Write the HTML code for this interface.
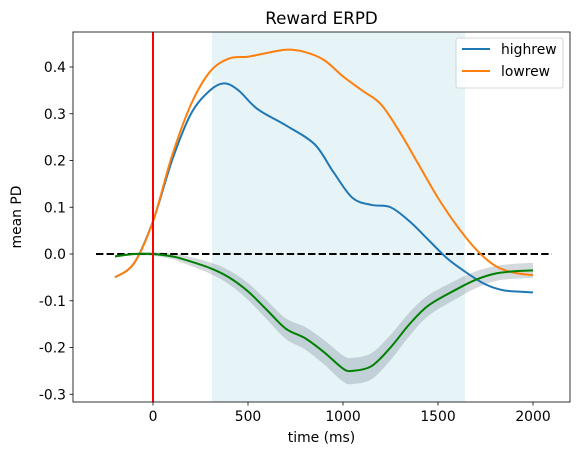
<!DOCTYPE html>
<html><head><meta charset="utf-8"><style>
body{margin:0;background:#fff;font-family:"Liberation Sans","DejaVu Sans",sans-serif}
svg text{font-family:"DejaVu Sans","Liberation Sans",sans-serif}
</style></head><body>
<svg id="c" width="578" height="455" xmlns="http://www.w3.org/2000/svg"></svg>
<script>
const xTicks=[0,500,1000,1500,2000];
const yTicks=[-0.3,-0.2,-0.1,0.0,0.1,0.2,0.3,0.4];
const timeHigh=[-200,-100,0,100,200,300,375,450,550,700,850,950,1050,1150,1250,1350,1450,1550,1650,1750,1850,2000];
const highrew=[-0.05,-0.02,0.07,0.2,0.3,0.35,0.365,0.35,0.31,0.275,0.235,0.175,0.12,0.105,0.1,0.07,0.03,-0.01,-0.04,-0.065,-0.078,-0.082];
const timeLow=[-200,-100,0,100,200,300,400,500,600,700,800,900,1000,1100,1200,1300,1400,1500,1600,1700,1800,1900,2000];
const lowrew=[-0.05,-0.02,0.07,0.21,0.32,0.39,0.418,0.422,0.43,0.437,0.432,0.415,0.38,0.35,0.32,0.26,0.19,0.12,0.06,0.01,-0.025,-0.04,-0.045];
const timeDiff=[-200,-100,0,100,150,300,400,500,600,700,800,900,1000,1050,1150,1250,1350,1450,1600,1700,1800,1900,2000];
const diffMean=[-0.005,0,0,-0.005,-0.01,-0.03,-0.05,-0.08,-0.12,-0.16,-0.18,-0.21,-0.245,-0.25,-0.24,-0.2,-0.15,-0.11,-0.075,-0.055,-0.042,-0.037,-0.035];
const diffErr=[0.003,0.003,0.004,0.006,0.008,0.012,0.015,0.018,0.02,0.022,0.024,0.026,0.028,0.028,0.028,0.027,0.025,0.022,0.02,0.018,0.016,0.016,0.016];
const shadeRange=[310,1642];

const L=73,R=570,T=32,B=402;
const X=v=>153+v*0.19, Y=v=>254-v*467.5;
const svg=document.getElementById('c');
const NS='http://www.w3.org/2000/svg';
function mk(tag,attrs,parent){const e=document.createElementNS(NS,tag);for(const k in attrs)e.setAttribute(k,attrs[k]);(parent||svg).appendChild(e);return e;}
function smooth(pts){let d=`M${pts[0][0]},${pts[0][1]}`;for(let i=0;i<pts.length-1;i++){const p0=pts[i-1]||pts[i],p1=pts[i],p2=pts[i+1],p3=pts[i+2]||p2;d+=` C${p1[0]+(p2[0]-p0[0])/6},${p1[1]+(p2[1]-p0[1])/6} ${p2[0]-(p3[0]-p1[0])/6},${p2[1]-(p3[1]-p1[1])/6} ${p2[0]},${p2[1]}`;}return d;}

let e=mk('rect',{x:X(shadeRange[0]),y:T,width:X(shadeRange[1])-X(shadeRange[0]),height:B-T,fill:'#add8e6','fill-opacity':0.3});


const up=timeDiff.map((t,i)=>[X(t),Y(diffMean[i]+diffErr[i])]);
const lo=timeDiff.map((t,i)=>[X(t),Y(diffMean[i]-diffErr[i])]).reverse();
e=mk('path',{d:smooth(up)+' L'+smooth(lo).slice(1)+' Z',fill:'#708090','fill-opacity':0.3,stroke:'none'});


e=mk('line',{x1:X(-300),x2:X(2100),y1:Y(0),y2:Y(0),stroke:'#000','stroke-width':2,'stroke-dasharray':'7.4,3.2'});


e=mk('path',{d:smooth(timeHigh.map((t,i)=>[X(t),Y(highrew[i])])),fill:'none',stroke:'#1f77b4','stroke-width':2});

e=mk('path',{d:smooth(timeLow.map((t,i)=>[X(t),Y(lowrew[i])])),fill:'none',stroke:'#ff7f0e','stroke-width':2});

e=mk('path',{d:smooth(timeDiff.map((t,i)=>[X(t),Y(diffMean[i])])),fill:'none',stroke:'#008000','stroke-width':2});


e=mk('line',{x1:X(0),x2:X(0),y1:T,y2:B,stroke:'#ff0000','stroke-width':2});


e=mk('rect',{x:L,y:T,width:R-L,height:B-T,fill:'none',stroke:'#000','stroke-width':0.8});


xTicks.forEach(v=>{
  const t=mk('line',{x1:X(v),x2:X(v),y1:B,y2:B+3.5,stroke:'#000','stroke-width':0.8});
  
  const l=mk('text',{x:X(v),y:B+19,'font-size':13.9,'text-anchor':'middle',fill:'#000'});l.textContent=v;
  
});
yTicks.forEach(v=>{
  const t=mk('line',{x1:L-3.5,x2:L,y1:Y(v),y2:Y(v),stroke:'#000','stroke-width':0.8});
  
  const l=mk('text',{x:L-7,y:Y(v)+5,'font-size':13.9,'text-anchor':'end',fill:'#000'});l.textContent=v.toFixed(1);
  
});

e=mk('text',{x:(L+R)/2,y:T-8,'font-size':16.7,'text-anchor':'middle'});e.textContent='Reward ERPD';

e=mk('text',{x:(L+R)/2,y:442,'font-size':13.9,'text-anchor':'middle'});e.textContent='time (ms)';

e=mk('text',{x:0,y:0,'font-size':13.9,'text-anchor':'middle',transform:`translate(21,${(T+B)/2}) rotate(-90)`});e.textContent='mean PD';


const lg=mk('g',{});
mk('rect',{x:456,y:38,width:107,height:50,rx:2,fill:'#fff','fill-opacity':0.8,stroke:'#ccc','stroke-width':0.8},lg);
[['highrew','#1f77b4',54],['lowrew','#ff7f0e',76]].forEach(([n,c,y])=>{
  const g=mk('g',{},lg);
  mk('line',{x1:462,x2:490,y1:y-5,y2:y-5,stroke:c,'stroke-width':2},g);
  const t=mk('text',{x:501,y:y,'font-size':13.9},g);t.textContent=n;
});
</script>
</body></html>
